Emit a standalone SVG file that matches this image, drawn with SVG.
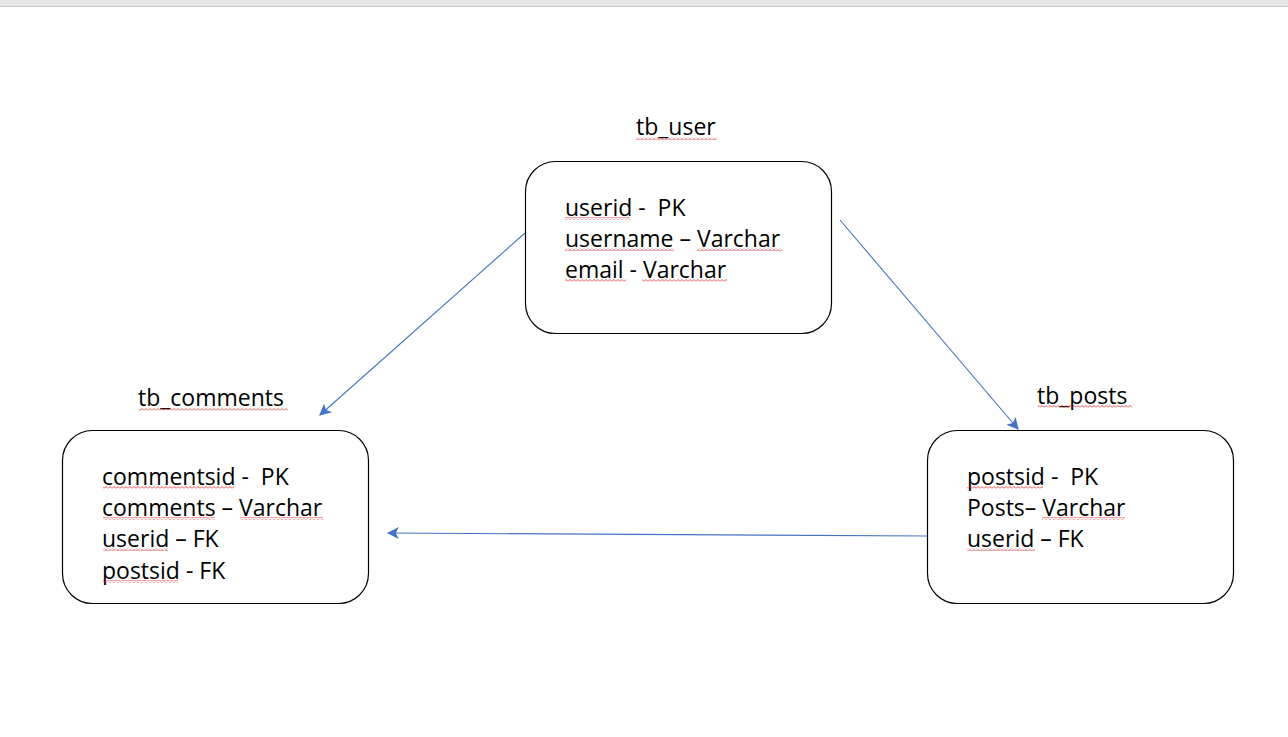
<svg xmlns="http://www.w3.org/2000/svg" width="1288" height="737" viewBox="0 0 1288 737">
<style>
.t{font-family:"Open Sans","Noto Sans","Liberation Sans",sans-serif;font-size:23px;fill:#000;white-space:pre}
.box{fill:#fff;stroke:#000;stroke-width:1.2}
.c{stroke:#4472c4;stroke-width:1.1;fill:none;marker-end:url(#ah)}
.sq{fill:url(#sqp)}
</style>
<defs>
<marker id="ah" viewBox="0 0 10 10" refX="9" refY="5" markerWidth="12" markerHeight="12" markerUnits="userSpaceOnUse" orient="auto">
<path d="M0 0 L10 5 L0 10 L2.5 5 Z" fill="#4472c4"/>
</marker>
<pattern id="sqp" width="4" height="3" patternUnits="userSpaceOnUse">
<path d="M0 2.5 L2 0.5 L4 2.5" fill="none" stroke="#e02020" stroke-width="0.8"/>
</pattern>
</defs>
<rect x="0" y="0" width="1288" height="737" fill="#fff"/>
<rect x="0" y="0" width="1288" height="6" fill="#e6e6e6"/>
<rect x="0" y="6" width="1288" height="1" fill="#c8c8c8"/>

<g id="connectors">
<line class="c" x1="525" y1="233" x2="320" y2="415"/>
<line class="c" x1="840" y1="220" x2="1018" y2="429"/>
<line class="c" x1="927" y1="536" x2="388" y2="533"/>
</g>

<g id="tb_user">
<text class="t" x="636" y="135">tb_user</text>
<rect class="sq" x="636" y="137" width="81" height="3"/>
<rect class="box" x="525.5" y="161.5" width="306" height="172" rx="30"/>
<text class="t" x="565" y="216">userid -  PK</text>
<text class="t" x="565" y="247">username – Varchar</text>
<text class="t" x="565" y="278">email - Varchar</text>
<rect class="sq" x="565" y="217" width="65" height="3"/>
<rect class="sq" x="565" y="248" width="109" height="3"/>
<rect class="sq" x="697" y="248" width="85" height="3"/>
<rect class="sq" x="565" y="279" width="61" height="3"/>
<rect class="sq" x="642" y="279" width="85" height="3"/>
</g>

<g id="tb_comments">
<text class="t" x="138" y="406">tb_comments</text>
<rect class="sq" x="139" y="408" width="149" height="3"/>
<rect class="box" x="62.5" y="430.5" width="306" height="173" rx="30"/>
<text class="t" x="102" y="485">commentsid -  PK</text>
<text class="t" x="102" y="516">comments – Varchar</text>
<text class="t" x="102" y="547">userid – FK</text>
<text class="t" x="102" y="579">postsid - FK</text>
<rect class="sq" x="103" y="486" width="131" height="3"/>
<rect class="sq" x="103" y="517" width="112" height="3"/>
<rect class="sq" x="240" y="517" width="83" height="3"/>
<rect class="sq" x="103" y="548" width="65" height="3"/>
<rect class="sq" x="103" y="580" width="75" height="3"/>
</g>

<g id="tb_posts">
<text class="t" x="1037" y="404">tb_posts</text>
<rect class="sq" x="1038" y="405" width="94" height="3"/>
<rect class="box" x="927.5" y="430.5" width="306" height="173" rx="30"/>
<text class="t" x="967" y="485">postsid -  PK</text>
<text class="t" x="967" y="516">Posts– Varchar</text>
<text class="t" x="967" y="547">userid – FK</text>
<rect class="sq" x="967" y="486" width="76" height="3"/>
<rect class="sq" x="1042" y="517" width="83" height="3"/>
<rect class="sq" x="967" y="548" width="68" height="3"/>
</g>
</svg>
